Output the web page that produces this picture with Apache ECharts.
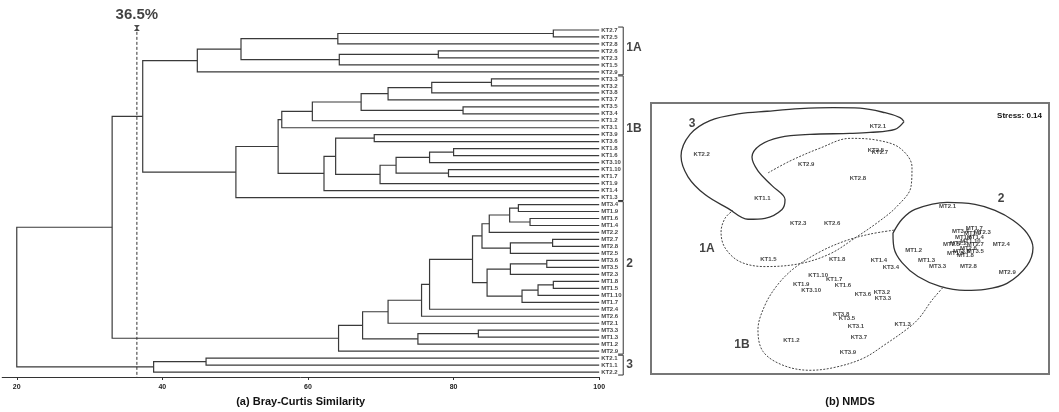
<!DOCTYPE html>
<html>
<head>
<meta charset="utf-8">
<script src="https://cdn.jsdelivr.net/npm/echarts@6/dist/echarts.min.js"></script>
<style>
  html, body { margin: 0; padding: 0; background: #fff; }
  #main { width: 1059px; height: 412px; }
</style>
</head>
<body>
<div id="main"></div>
<script>
// ---- (a) dendrogram data ----
// leaves, top to bottom
var leaves = [
  'KT2.7', 'KT2.5', 'KT2.8', 'KT2.6', 'KT2.3', 'KT1.5', 'KT2.9',
  'KT3.3', 'KT3.2', 'KT3.8', 'KT3.7', 'KT3.5', 'KT3.4', 'KT1.2', 'KT3.1', 'KT3.9', 'KT3.6',
  'KT1.8', 'KT1.6', 'KT3.10', 'KT1.10', 'KT1.7', 'KT1.9', 'KT1.4', 'KT1.3',
  'MT3.4', 'MT1.9', 'MT1.6', 'MT1.4', 'MT2.2', 'MT2.7', 'MT2.8', 'MT2.5', 'MT3.6', 'MT3.5', 'MT2.3',
  'MT1.8', 'MT1.5', 'MT1.10', 'MT1.7', 'MT2.4', 'MT2.6', 'MT2.1', 'MT3.3', 'MT1.3', 'MT1.2', 'MT2.9',
  'KT2.1', 'KT1.1', 'KT2.2'
];
// merges: [a, b, similarity]  (string = leaf, number = earlier merge)
var merges = [
  ['KT2.7', 'KT2.5', 93.7], [0, 'KT2.8', 64.1], ['KT2.6', 'KT2.3', 77.9], [2, 'KT1.5', 64.3],
  [1, 3, 50.8], [4, 'KT2.9', 44.8],
  ['KT3.3', 'KT3.2', 85.2], [6, 'KT3.8', 77.0], [7, 'KT3.7', 71.0], ['KT3.5', 'KT3.4', 81.3],
  [8, 9, 67.3], [10, 'KT1.2', 60.6], [11, 'KT3.1', 56.4], ['KT3.9', 'KT3.6', 69.1],
  ['KT1.8', 'KT1.6', 80.0], [14, 'KT3.10', 76.7], ['KT1.10', 'KT1.7', 79.3], [15, 16, 72.1],
  [17, 'KT1.9', 69.9], [13, 18, 63.8], [19, 'KT1.4', 62.2], [12, 20, 55.9], [21, 'KT1.3', 50.1],
  [5, 22, 37.3],
  ['MT3.4', 'MT1.9', 88.9], ['MT1.6', 'MT1.4', 90.5], [24, 25, 87.7], [26, 'MT2.2', 84.9],
  ['MT2.7', 'MT2.8', 93.6], [28, 'MT2.5', 87.8], [27, 29, 83.9], ['MT3.6', 'MT3.5', 92.8],
  [31, 'MT2.3', 87.8], ['MT1.8', 'MT1.5', 93.7], [33, 'MT1.10', 91.6], [34, 'MT1.7', 89.4],
  [32, 35, 84.6], [30, 36, 82.6], [37, 'MT2.4', 76.7], [38, 'MT2.6', 75.6], [39, 'MT2.1', 71.0],
  ['MT3.3', 'MT1.3', 83.4], [41, 'MT1.2', 75.1], [40, 42, 67.5], [43, 'MT2.9', 64.2],
  [23, 44, 33.1],
  ['KT2.1', 'KT1.1', 46.0], [46, 'KT2.2', 38.8],
  [45, 47, 20.0]
];
var cutOff = 36.5;
var xTicks = [20, 40, 60, 80, 100];
// group name, first leaf row, last leaf row, label row
var groups = [['1A', 0, 6, 2.6], ['1B', 7, 24, 14.2], ['2', 25, 46, 33.5], ['3', 47, 49, 48]];

// ---- (b) NMDS data ----
var nmdsPoints = [
  ['KT2.1', 0.28, 1.14], ['KT2.2', -1.49, 0.86], ['KT2.9', -0.44, 0.76], ['KT2.5', 0.26, 0.90],
  ['KT2.7', 0.30, 0.88], ['KT2.8', 0.08, 0.61], ['KT1.1', -0.88, 0.41], ['KT2.3', -0.52, 0.15],
  ['KT2.6', -0.18, 0.15], ['KT1.5', -0.82, -0.21],
  ['KT1.8', -0.13, -0.21], ['KT1.4', 0.29, -0.22], ['KT3.4', 0.41, -0.29], ['KT1.10', -0.32, -0.38],
  ['KT1.7', -0.16, -0.42], ['KT1.9', -0.49, -0.47], ['KT3.10', -0.39, -0.53], ['KT1.6', -0.07, -0.48],
  ['KT3.6', 0.13, -0.57], ['KT3.2', 0.32, -0.55], ['KT3.3', 0.33, -0.61], ['KT3.8', -0.09, -0.77],
  ['KT3.5', -0.03, -0.81], ['KT3.1', 0.06, -0.89], ['KT1.3', 0.53, -0.87], ['KT3.7', 0.09, -1.01],
  ['KT1.2', -0.59, -1.04], ['KT3.9', -0.02, -1.16],
  ['MT2.1', 0.98, 0.33], ['MT1.7', 1.25, 0.10], ['MT2.3', 1.33, 0.06], ['MT2.4', 1.52, -0.06],
  ['MT1.2', 0.64, -0.12], ['MT1.3', 0.77, -0.22], ['MT3.3', 0.88, -0.28], ['MT2.8', 1.19, -0.28],
  ['MT2.9', 1.58, -0.34], ['MT3.4', 1.11, 0.07], ['MT1.9', 1.23, 0.05], ['MT1.6', 1.14, 0.01],
  ['MT1.4', 1.26, 0.01], ['MT2.2', 1.09, -0.05], ['MT2.7', 1.26, -0.06], ['MT2.5', 1.02, -0.06],
  ['MT3.6', 1.12, -0.13], ['MT3.5', 1.26, -0.13], ['MT1.8', 1.16, -0.17], ['MT1.5', 1.06, -0.15],
  ['MT1.10', 1.21, -0.03], ['MT2.6', 1.19, -0.10]
];
// cluster outlines
var outline3 = [
  [0.543, 1.191], [0.452, 1.111], [0.201, 1.080], [0, 1.070], [-0.402, 1.060], [-0.704, 1.030],
  [-0.905, 0.950], [-0.985, 0.829], [-0.925, 0.688], [-0.784, 0.538], [-0.653, 0.397], [-0.683, 0.296],
  [-0.854, 0.206], [-1.025, 0.196], [-1.226, 0.307], [-1.457, 0.447], [-1.628, 0.628], [-1.698, 0.839],
  [-1.608, 1.060], [-1.407, 1.201], [-1.106, 1.271], [-0.834, 1.296], [-0.503, 1.322], [-0.171, 1.332],
  [0.101, 1.327], [0.352, 1.281], [0.503, 1.231], [0.543, 1.191]
];
var outline1A = [
  [-0.824, 0.668], [-0.603, 0.789], [-0.302, 0.920], [0, 1.020], [0.281, 1.0], [0.503, 0.920],
  [0.623, 0.729], [0.613, 0.528], [0.472, 0.327], [0.281, 0.166], [0.050, 0.005], [-0.201, -0.156],
  [-0.503, -0.256], [-0.854, -0.286], [-1.106, -0.236], [-1.256, -0.095], [-1.296, 0.065],
  [-1.256, 0.206], [-1.176, 0.286]
];
var outline1B = [
  [0.442, 0.085], [0.201, 0.045], [-0.050, -0.025], [-0.302, -0.136], [-0.553, -0.296], [-0.724, -0.467],
  [-0.854, -0.678], [-0.925, -0.930], [-0.874, -1.151], [-0.673, -1.291], [-0.402, -1.342], [-0.151, -1.312],
  [0.131, -1.221], [0.352, -1.080], [0.603, -0.899], [0.704, -0.799], [0.824, -0.628], [0.945, -0.487]
];
var outline2 = [
  [0.432, 0.055], [0.523, 0.196], [0.653, 0.296], [0.975, 0.367], [1.256, 0.347], [1.457, 0.286],
  [1.638, 0.186], [1.779, 0.055], [1.839, -0.095], [1.779, -0.276], [1.578, -0.457], [1.357, -0.518],
  [1.156, -0.528], [0.905, -0.487], [0.683, -0.387], [0.523, -0.246], [0.442, -0.095], [0.432, 0.055]
];
var clusterTags = [['3', -1.588, 1.171], ['1A', -1.437, -0.106], ['1B', -1.085, -1.080], ['2', 1.518, 0.407]];
var stressText = 'Stress: 0.14';

var FONT = '"Liberation Sans", Arial, sans-serif';

(function () {
  var myChart = echarts.init(document.getElementById('main'));

  // build dendrogram links from the merge table
  var leafRow = {};
  leaves.forEach(function (n, i) { leafRow[n] = i; });
  var nodes = [];
  function pos(ref) {
    return typeof ref === 'number' ? nodes[ref] : { x: 100, y: leafRow[ref] };
  }
  var links = [];
  merges.forEach(function (m) {
    var a = pos(m[0]), b = pos(m[1]), h = m[2];
    links.push({ coords: [[a.x, a.y], [h, a.y], [h, b.y], [b.x, b.y]] });
    nodes.push({ x: h, y: (a.y + b.y) / 2 });
  });

  var brackets = groups.map(function (g) {
    return { coords: [[102.6, g[1] - 0.42], [103.3, g[1] - 0.42], [103.3, g[2] + 0.42], [102.6, g[2] + 0.42]] };
  });

  var option = {
    animation: false,
    textStyle: { fontFamily: FONT },
    title: [{
      text: stressText, right: 12, top: 107,
      textStyle: { fontSize: 8, fontWeight: 'bold', color: '#111', fontFamily: FONT }
    }],
    grid: [
      { left: 2.2, top: 26.5, width: 597, height: 354.4 },
      { left: 651, top: 103, width: 398, height: 275, show: true, borderColor: '#777', borderWidth: 2 }
    ],
    xAxis: [
      {
        gridIndex: 0, type: 'value', min: 18, max: 100, position: 'bottom',
        name: '(a) Bray-Curtis Similarity', nameLocation: 'middle', nameGap: 19,
        nameTextStyle: { fontSize: 11, fontWeight: 'bold', color: '#111' },
        axisLine: { onZero: false, lineStyle: { color: '#333', width: 1 } },
        axisTick: { customValues: xTicks, length: 3, lineStyle: { color: '#333' } },
        axisLabel: { customValues: xTicks, fontSize: 7, fontWeight: 'bold', color: '#222', margin: 7 },
        splitLine: { show: false }
      },
      {
        gridIndex: 1, type: 'value', min: -2, max: 2,
        name: '(b) NMDS', nameLocation: 'middle', nameGap: 22,
        nameTextStyle: { fontSize: 11, fontWeight: 'bold', color: '#111' },
        axisLine: { show: false }, axisTick: { show: false }, axisLabel: { show: false },
        splitLine: { show: false }
      }
    ],
    yAxis: [
      { gridIndex: 0, type: 'value', inverse: true, min: -0.5, max: 49.7, show: false },
      { gridIndex: 1, type: 'value', min: -1.38, max: 1.38, show: false }
    ],
    series: [
      {
        type: 'lines', coordinateSystem: 'cartesian2d', xAxisIndex: 0, yAxisIndex: 0,
        polyline: true, silent: true, data: links,
        lineStyle: { color: '#3a3a3a', width: 1.2, opacity: 1 }
      },
      {
        type: 'lines', coordinateSystem: 'cartesian2d', xAxisIndex: 0, yAxisIndex: 0,
        polyline: true, silent: true, clip: false, data: brackets,
        lineStyle: { color: '#333', width: 1, opacity: 1 }
      },
      {
        // leaf labels
        type: 'scatter', xAxisIndex: 0, yAxisIndex: 0, symbolSize: 0, silent: true,
        data: leaves.map(function (n, i) { return [100, i, n]; }),
        label: {
          show: true, position: 'right', distance: 2, formatter: function (p) { return p.value[2]; },
          fontSize: 6, fontWeight: 'bold', color: '#111'
        }
      },
      {
        // group labels
        type: 'scatter', xAxisIndex: 0, yAxisIndex: 0, symbolSize: 0, silent: true, clip: false,
        data: groups.map(function (g) { return [103.3, g[3], g[0]]; }),
        label: {
          show: true, position: 'right', distance: 3, formatter: function (p) { return p.value[2]; },
          fontSize: 12, fontWeight: 'bold', color: '#111'
        }
      },
      {
        // cut-off line
        type: 'line', xAxisIndex: 0, yAxisIndex: 0, symbol: 'none', silent: true,
        data: [[cutOff, -0.45], [cutOff, 49.7]],
        lineStyle: { color: '#333', width: 1, type: [3, 2] }
      },
      {
        type: 'scatter', xAxisIndex: 0, yAxisIndex: 0, silent: true,
        symbol: 'path://M0,0L10,0L0,10L10,10Z', symbolSize: [6, 6],
        itemStyle: { color: '#222' },
        data: [[cutOff, -0.3]],
        label: {
          show: true, position: 'top', distance: 3, formatter: cutOff + '%',
          fontSize: 15, fontWeight: 'bold', color: '#111'
        }
      },
      // NMDS outlines
      {
        type: 'line', xAxisIndex: 1, yAxisIndex: 1, symbol: 'none', smooth: 0.35, silent: true,
        data: outline3, lineStyle: { color: '#333', width: 1.3 }
      },
      {
        type: 'line', xAxisIndex: 1, yAxisIndex: 1, symbol: 'none', smooth: 0.35, silent: true,
        data: outline1A, lineStyle: { color: '#444', width: 1, type: [2, 1.5] }
      },
      {
        type: 'line', xAxisIndex: 1, yAxisIndex: 1, symbol: 'none', smooth: 0.35, silent: true,
        data: outline1B, lineStyle: { color: '#444', width: 1, type: [2, 1.5] }
      },
      {
        type: 'line', xAxisIndex: 1, yAxisIndex: 1, symbol: 'none', smooth: 0.35, silent: true,
        data: outline2, lineStyle: { color: '#333', width: 1.3 }
      },
      {
        // sample labels
        type: 'scatter', xAxisIndex: 1, yAxisIndex: 1, symbolSize: 0, silent: true,
        data: nmdsPoints.map(function (p) { return [p[1], p[2], p[0]]; }),
        label: {
          show: true, position: 'inside', formatter: function (p) { return p.value[2]; },
          fontSize: 6, fontWeight: 'bold', color: '#111'
        }
      },
      {
        type: 'scatter', xAxisIndex: 1, yAxisIndex: 1, symbolSize: 0, silent: true,
        data: clusterTags.map(function (p) { return [p[1], p[2], p[0]]; }),
        label: {
          show: true, position: 'inside', formatter: function (p) { return p.value[2]; },
          fontSize: 12, fontWeight: 'bold', color: '#111'
        }
      }
    ]
  };

  myChart.setOption(option);

  window.addEventListener('resize', function () {
    myChart.resize();
  });
})();
</script>
</body>
</html>
